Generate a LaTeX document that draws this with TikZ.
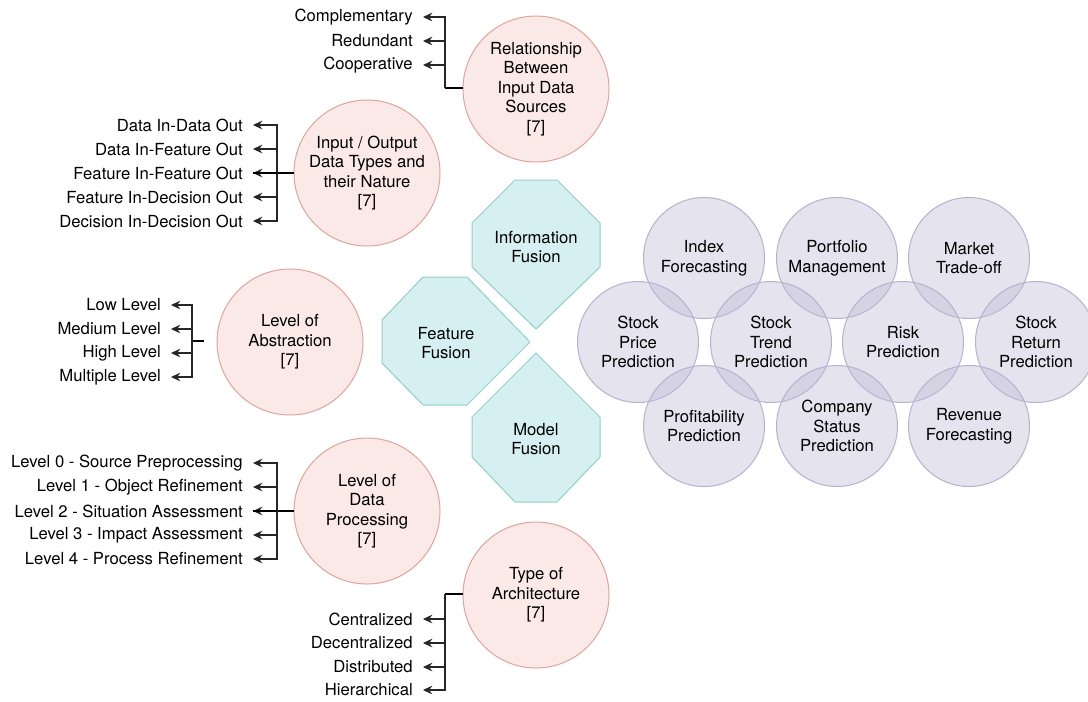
\documentclass[tikz,border=0pt]{standalone}
\usepackage{fontspec}
\setmainfont{TeX Gyre Heros}
\usetikzlibrary{arrows.meta}

\definecolor{pinkfill}{RGB}{250,233,231}
\definecolor{pinkline}{RGB}{220,165,158}
\definecolor{tealfill}{RGB}{214,239,240}
\definecolor{tealline}{RGB}{145,206,206}
\definecolor{lilacfill}{RGB}{190,186,214}
\definecolor{lilacline}{RGB}{182,178,205}

\begin{document}
\begin{tikzpicture}[x=0.75pt,y=-0.75pt,
  txt/.style={font=\fontsize{12.5pt}{14.6pt}\selectfont, align=center},
  topic/.style={txt, circle, draw=pinkline, fill=pinkfill, line width=0.75pt,
    minimum size=109.5pt, inner sep=0pt},
  task/.style={txt, circle, draw=lilacline, fill=lilacfill, fill opacity=0.4,
    text opacity=1, line width=0.75pt, minimum size=90.75pt, inner sep=0pt},
  fusion/.style={draw=tealline, fill=tealfill, line width=0.75pt},
  item/.style={txt, anchor=east, inner xsep=7.5pt, inner ysep=0pt},
  bus/.style={line width=0.8pt, draw=black!85},
  branch/.style={bus, -{Stealth[length=7pt,width=6.5pt,inset=2.4pt]}},
  stem/.style={line width=1.5pt, draw=black},
]
\useasboundingbox (0,0) rectangle (1088,701);
\clip (0,0) rectangle (1088,701);
\fill[white] (0,0) rectangle (1088,701);

% ---------- fusion levels ----------
\draw[fusion] (515,180) -- (557,180) -- (600,223) -- (600,267) -- (536,329)
  -- (472,267) -- (472,223) -- cycle;
\node[txt] (info) at (536,247) {Information\\Fusion};
\draw[fusion] (423,277) -- (467,277) -- (530,342) -- (467,405) -- (423,405)
  -- (382,363) -- (382,320) -- cycle;
\node[txt] (feat) at (446,343) {Feature\\Fusion};
\draw[fusion] (536,353) -- (600,417) -- (600,457) -- (557,502) -- (515,502)
  -- (472,457) -- (472,417) -- cycle;
\node[txt] (model) at (536,439) {Model\\Fusion};

% ---------- application areas ----------
\node[task] (idx)  at (704,258) {Index\\Forecasting};
\node[task] (port) at (837,258) {Portfolio\\Management};
\node[task] (mkt)  at (969,258) {Market\\Trade-off};
\node[task] (sp)   at (638,342) {Stock\\Price\\Prediction};
\node[task] (st)   at (771,342) {Stock\\Trend\\Prediction};
\node[task] (risk) at (903,342) {Risk\\Prediction};
\node[task] (sr)   at (1036,342) {Stock\\Return\\Prediction};
\node[task] (prof) at (704,426) {Profitability\\Prediction};
\node[task] (comp) at (837,426) {Company\\Status\\Prediction};
\node[task] (rev)  at (969,426) {Revenue\\Forecasting};

% ---------- relationship between input data sources ----------
\node[topic] (rel) at (536,89) {Relationship\\Between\\Input Data\\Sources\\{[7]}};
\coordinate (relbus) at (445,88);
\node[item] (rel1) at (423,17) {Complementary};
\node[item] (rel2) at (423,41) {Redundant};
\node[item] (rel3) at (423,65) {Cooperative};
\draw[stem] (rel.west |- relbus) -- (relbus);
\foreach \n in {rel1,rel2,rel3} \draw[branch] (relbus) |- (\n.east);

% ---------- input / output data types ----------
\node[topic] (io) at (367,173) {Input / Output\\Data Types and\\their Nature\\{[7]}};
\coordinate (iobus) at (277,173);
\node[item] (io1) at (253,125) {Data In-Data Out};
\node[item] (io2) at (253,149) {Data In-Feature Out};
\node[item] (io3) at (253,173) {Feature In-Feature Out};
\node[item] (io4) at (253,197) {Feature In-Decision Out};
\node[item] (io5) at (253,221) {Decision In-Decision Out};
\draw[stem] (io.west) -- (iobus);
\foreach \n in {io1,io2,io3,io4,io5} \draw[branch] (iobus) |- (\n.east);
\draw[stem] (iobus) -- (io3.east);

% ---------- level of abstraction ----------
\node[topic] (abs) at (290,342) {Level of\\Abstraction\\{[7]}};
\coordinate (absbus) at (192,341);
\node[item] (abs1) at (171,305) {Low Level};
\node[item] (abs2) at (171,329) {Medium Level};
\node[item] (abs3) at (171,353) {High Level};
\node[item] (abs4) at (171,377) {Multiple Level};
\draw[stem, shorten <=9.75pt] (abs.west |- absbus) -- (absbus);
\foreach \n in {abs1,abs2,abs3,abs4} \draw[branch] (absbus) |- (\n.east);

% ---------- level of data processing ----------
\node[topic] (dp) at (367,511) {Level of\\Data\\Processing\\{[7]}};
\coordinate (dpbus) at (277,511);
\node[item] (dp1) at (253,463) {Level 0 - Source Preprocessing};
\node[item] (dp2) at (253,487) {Level 1 - Object Refinement};
\node[item] (dp3) at (253,511) {Level 2 - Situation Assessment};
\node[item] (dp4) at (253,535) {Level 3 - Impact Assessment};
\node[item] (dp5) at (253,559) {Level 4 - Process Refinement};
\draw[stem] (dp.west) -- (dpbus);
\foreach \n in {dp1,dp2,dp3,dp4,dp5} \draw[branch] (dpbus) |- (\n.east);
\draw[stem] (dpbus) -- (dp3.east);

% ---------- type of architecture ----------
\node[topic] (arch) at (536,595) {Type of\\Architecture\\{[7]}};
\coordinate (archbus) at (445,594);
\node[item] (arch1) at (423,619) {Centralized};
\node[item] (arch2) at (423,643) {Decentralized};
\node[item] (arch3) at (423,667) {Distributed};
\node[item] (arch4) at (423,690) {Hierarchical};
\draw[stem] (arch.west |- archbus) -- (archbus);
\foreach \n in {arch1,arch2,arch3,arch4} \draw[branch] (archbus) |- (\n.east);
\end{tikzpicture}
\end{document}
